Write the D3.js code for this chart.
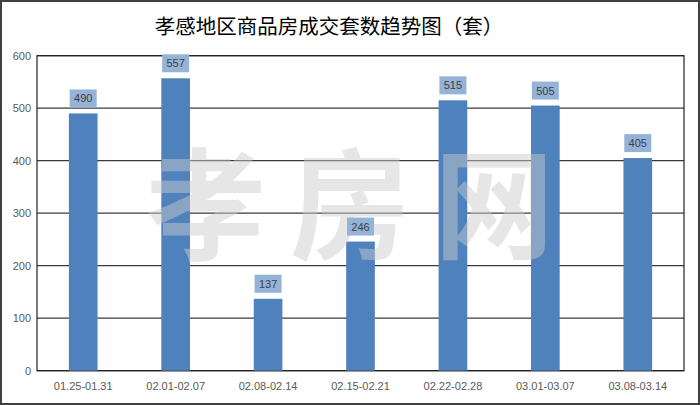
<!DOCTYPE html>
<html><head><meta charset="utf-8">
<script src="https://cdn.jsdelivr.net/npm/d3@7"></script>
<style>html,body{margin:0;padding:0;background:#fff;}svg{display:block;}</style>
</head><body>
<svg id="c" width="700" height="405"></svg>
<script>
const categories = ["01.25-01.31","02.01-02.07","02.08-02.14","02.15-02.21","02.22-02.28","03.01-03.07","03.08-03.14"];
const values = [490, 557, 137, 246, 515, 505, 405];
const yTicks = [0, 100, 200, 300, 400, 500, 600];
const title = "孝感地区商品房成交套数趋势图（套）";
const watermark = "孝房网";

const svg = d3.select("#c");
const W = 700, H = 405;
const m = {left: 37, right: 684, top: 55.7, bottom: 370.7};

svg.append("rect").attr("x",1).attr("y",1).attr("width",W-2).attr("height",H-2)
  .attr("fill","#fff").attr("stroke","#404040").attr("stroke-width",2);

svg.append("text").attr("x",329).attr("y",34).attr("text-anchor","middle")
  .attr("font-family","'Noto Sans CJK SC'").attr("font-size",20.5).attr("fill","#000")
  .text(title);

const x = d3.scaleBand().domain(categories).range([m.left, m.right]).paddingInner(0.69).paddingOuter(0.345);
const y = d3.scaleLinear().domain([0, 600]).range([m.bottom, m.top]);

// gridlines
svg.append("g").selectAll("line").data(yTicks).join("line")
  .attr("x1", m.left).attr("x2", m.right)
  .attr("y1", d => y(d)).attr("y2", d => y(d))
  .attr("stroke", "#3a3a3a").attr("stroke-width", 1.3);

// plot border
svg.append("rect").attr("x", m.left).attr("y", m.top).attr("width", m.right - m.left).attr("height", m.bottom - m.top)
  .attr("fill","none").attr("stroke","#222").attr("stroke-width",1.2);

// y axis labels
const yAxis = d3.axisLeft(y).tickValues(yTicks).tickSize(0).tickPadding(6);
const ya = svg.append("g").attr("transform", `translate(${m.left},0)`).call(yAxis);
ya.select(".domain").remove();
ya.selectAll("text").attr("font-family","'Liberation Sans', Arial").attr("font-size",11).attr("fill","#595959");

// x axis labels
const xAxis = d3.axisBottom(x).tickSize(0).tickPadding(12);
const xa = svg.append("g").attr("transform", `translate(0,${m.bottom})`).call(xAxis);
xa.select(".domain").remove();
xa.selectAll("text").attr("font-family","'Liberation Sans', Arial").attr("font-size",11).attr("fill","#595959");

// bars
svg.append("g").selectAll("rect").data(values).join("rect")
  .attr("x", (d,i) => x(categories[i])).attr("width", x.bandwidth())
  .attr("y", d => y(d)).attr("height", d => y(0) - y(d))
  .attr("fill", "#4f81bd");

// watermark
svg.append("text").attr("x", 362).attr("y", 250).attr("text-anchor","middle")
  .attr("font-family","'Noto Sans CJK SC'").attr("font-weight",700).attr("font-size",120)
  .attr("letter-spacing", 24)
  .attr("fill","#cbcbcb").attr("fill-opacity",0.48).text(watermark);

// data labels
const lg = svg.append("g").selectAll("g").data(values).join("g")
  .attr("transform", (d,i) => `translate(${x(categories[i]) + x.bandwidth()/2},${y(d) - 15})`);
lg.append("rect").attr("x",-13.5).attr("y",-9).attr("width",27).attr("height",18).attr("fill","#95b3d7");
lg.append("text").attr("text-anchor","middle").attr("dy","0.36em")
  .attr("font-family","'Liberation Sans', Arial").attr("font-size",11).attr("fill","#404040")
  .text(d => d);
</script>
</body></html>
